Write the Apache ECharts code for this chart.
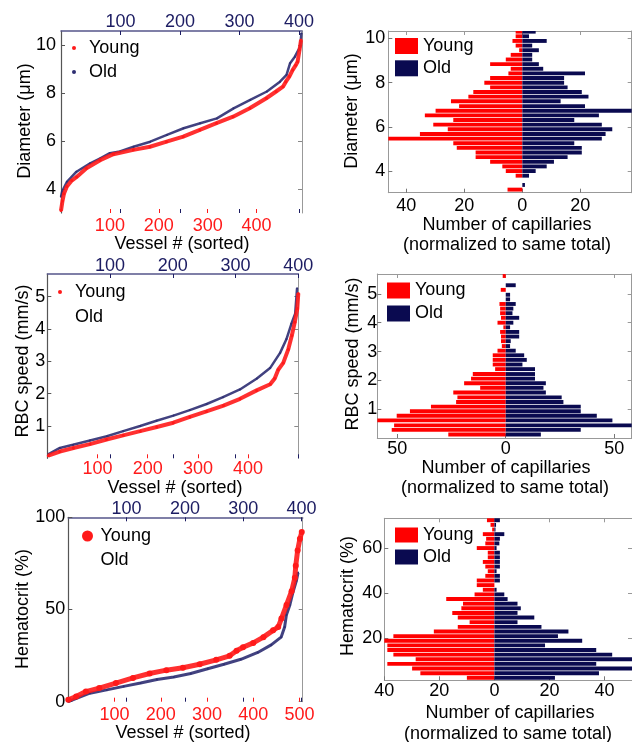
<!DOCTYPE html>
<html>
<head>
<meta charset="utf-8">
<script src="https://cdn.jsdelivr.net/npm/echarts@6.0.0/dist/echarts.min.js"></script>
<style>html,body{margin:0;padding:0;background:#fff;}#chart{width:632px;height:742px;}</style>
</head>
<body>
<div id="chart"></div>
<script>
// ---------- Sorted vessel data: [vessel # (sorted), value] ----------
const diamYoungSorted = [[0,3.1],[3,3.5],[6,3.8],[12,4.1],[22,4.35],[32,4.5],[52,4.86],[80,5.2],[107,5.45],[148,5.63],[182,5.76],[216,5.97],[250,6.18],[284,6.46],[318,6.74],[352,7.01],[386,7.36],[420,7.78],[440,8.06],[454,8.26],[460,8.47],[467,8.68],[474,8.96],[480,9.15],[484,9.3],[488,9.8],[491,10.2]];
const diamOldSorted = [[0,3.68],[2,3.9],[10,4.3],[26,4.72],[49,5.07],[66,5.28],[82,5.49],[99,5.56],[122,5.76],[150,5.97],[178,6.25],[206,6.53],[234,6.74],[262,6.94],[290,7.36],[318,7.71],[346,8.06],[368,8.47],[379,8.75],[385,9.24],[393,9.51],[402,9.93],[404,10.49]];
const rbcYoungSorted = [[2,0.08],[25,0.21],[52,0.32],[85,0.44],[118,0.58],[151,0.71],[185,0.84],[218,0.97],[251,1.1],[284,1.28],[317,1.45],[351,1.63],[384,1.84],[417,2.1],[444,2.29],[453,2.47],[460,2.74],[470,2.95],[480,3.37],[487,3.79],[493,4.21],[498,4.63],[500,5.1]];
const rbcOldSorted = [[2,0.13],[20,0.32],[41,0.42],[68,0.55],[95,0.68],[121,0.84],[148,1.0],[174,1.16],[201,1.32],[227,1.49],[254,1.68],[280,1.89],[307,2.13],[334,2.47],[355,2.79],[371,3.26],[381,3.68],[389,4.16],[395,4.47],[398,5.26]];
const hctYoungSorted = [[0,1],[17,2.8],[38,5.5],[67,7.4],[103,10.1],[140,12.9],[176,15.3],[212,17.1],[248,18.4],[284,20.3],[320,22.7],[349,24.9],[364,27.6],[378,29.5],[400,31.9],[422,35],[443,38.7],[454,40.5],[461,45.1],[472,52.5],[483,59.9],[490,67.2],[492,73.7],[496,82],[501,88.4],[505,92]];
const hctOldSorted = [[0,0],[14,1.8],[37,4.6],[66,6.4],[95,8.3],[124,10.1],[152,12],[181,13.4],[210,15.3],[239,17.9],[267,20.3],[296,23],[325,26.7],[348,30.8],[365,35],[371,40.5],[374,47],[380,52.5],[385,59],[391,65.4],[394,70]];

// ---------- Histograms (bin centres, counts normalized to same total) ----------
const diamBins = [3.16,3.37,3.58,3.79,4.00,4.21,4.42,4.63,4.84,5.05,5.26,5.47,5.68,5.89,6.10,6.31,6.52,6.73,6.94,7.16,7.37,7.58,7.79,8.00,8.21,8.42,8.63,8.84,9.05,9.26,9.47,9.68,9.89,10.10,10.31];
const diamYoungCounts = [5.1,0,0,2.3,5.7,6.9,11.1,16.1,16.1,22.6,23.8,47,35.3,25.7,30.7,23.8,33.6,29.9,21.8,24.6,18.6,16.9,11.1,13.1,11.1,4.8,4.0,11.1,5.7,4.0,1.1,2.3,3.4,2.3,2.3];
const diamOldCounts = [0,0.9,0,2.3,4.6,8.4,10.9,15.6,20.5,20.5,17.9,27.4,28.7,31.0,27.4,17.9,26.4,39,21.6,13.2,22.8,20.5,15.6,14.4,14.4,21.6,7.2,5.7,3.4,3.4,5.7,3.4,8.4,2.3,4.6];

const rbcBins = [0.12,0.28,0.44,0.61,0.77,0.93,1.09,1.25,1.41,1.58,1.74,1.90,2.06,2.22,2.39,2.55,2.71,2.87,3.03,3.19,3.36,3.52,3.68,3.84,4.00,4.17,4.33,4.49,4.65,4.81,4.97,5.14,5.30,5.46,5.62];
const rbcYoungCounts = [26.5,52.6,51.5,59.5,50.3,44.2,34.5,22.9,22.3,24.2,11.8,19.2,16,15.2,4.9,6,6,6,3.8,1.8,2.2,2.2,2.6,1.1,3.8,2.2,2.6,2.6,2.9,0,0,2.3,0,0,1.4];
const rbcOldCounts = [16.2,34.6,59,49.2,42,34.6,34.6,26.6,25.8,18.5,17.4,18.5,13.5,13.5,13.5,7.7,9.7,8.5,4.6,2,2.3,6.2,6.2,2,3.5,6.2,3.1,3.5,4.6,2,2,0,4.6,0,0];

const hctBins = [2.4,4.46,6.52,8.58,10.64,12.7,14.76,16.82,18.88,20.94,23.0,25.06,27.12,29.18,31.24,33.3,35.36,37.42,39.48,41.54,43.6,45.66,47.72,49.78,51.84,53.9,55.96,58.02,60.08,62.14,64.2,66.26,68.32,70.38,72.44];
const hctYoungCounts = [10,26.9,29.9,38.9,28.6,36.7,38.9,38.9,40.5,36.7,22,13.3,9,13.3,15.3,12,11.4,17.5,7.2,4.2,6.4,6.4,3.3,2.4,3.3,4.2,2.4,2.4,6.4,3.3,3.0,4.2,0.8,1.4,2.7];
const hctOldCounts = [22,38,52,37,51,42.8,37,18.4,31.9,23.1,26.9,17.1,8.4,14.5,8.4,9.6,8.4,4.8,3.6,0.8,0,2.0,2.0,0.8,2.0,2.0,2.0,2.0,0.8,1.8,2.0,3.6,0.4,0.6,2.0];

// ---------- Tick labels ----------
const vesselTicksYoung = [[100,200,300,400],[100,200,300,400],[100,200,300,400,500]];
const vesselTicksOld = [100,200,300,400];
const diamTicks = [4,6,8,10];
const rbcTicks = [1,2,3,4,5];
const hctTicksSorted = [0,50,100];
const hctTicksHist = [20,40,60];
const countTicks = [[-40,-20,0,20],[-50,0,50],[-40,-20,0,20,40]];

// ---------- Styling ----------
const RED = '#ff1a1a', NAVY = '#1c1c62', OLDLINE = '#2e2e72', BARNAVY = '#0a0a50';
const FONT = "'Liberation Sans', Arial, Helvetica, sans-serif";
const chart = echarts.init(document.getElementById('chart'), null, {renderer: 'canvas'});

const sortedGrids = [
  {left: 61, top: 31, width: 241, height: 182},
  {left: 47.3, top: 274, width: 251, height: 184.3},
  {left: 68.3, top: 517.3, width: 234.4, height: 184.4}
];
const histGrids = [
  {left: 388.3, top: 31, width: 243.4, height: 161.7},
  {left: 377.3, top: 274, width: 254.4, height: 164},
  {left: 384.3, top: 518.3, width: 249, height: 162}
];
const sortedCfg = [
  {young: diamYoungSorted, old: diamOldSorted, yMin: 3, yMax: 10.58, yTicks: diamTicks, redMax: 493, blueMax: 405,
   redM: 4, blueM: 0, yM: 5, yLw: 4, oLw: 2.5, ySym: 3, oSym: 2},
  {young: rbcYoungSorted, old: rbcOldSorted, yMin: 0, yMax: 5.7, yTicks: rbcTicks, redMax: 500, blueMax: 400,
   redM: 2, blueM: -1, yM: 2, yLw: 4, oLw: 2.5, ySym: 3, oSym: 2},
  {young: hctYoungSorted, old: hctOldSorted, yMin: 0, yMax: 100, yTicks: hctTicksSorted, redMax: 507, blueMax: 402,
   redM: 4, blueM: -1, yM: 3, yLw: 5, oLw: 3, ySym: 6, oSym: 2}
];
const histCfg = [
  {bins: diamBins, young: diamYoungCounts, old: diamOldCounts, xMin: -46.2, xMax: 37.7, yMin: 3.02, yMax: 10.34, yTicks: diamTicks, xM: 4.5, yM: 3},
  {bins: rbcBins, young: rbcYoungCounts, old: rbcOldCounts, xMin: -59.25, xMax: 58.1, yMin: 0, yMax: 5.69, yTicks: rbcTicks, xM: 2.5, yM: 0},
  {bins: hctBins, young: hctYoungCounts, old: hctOldCounts, xMin: -40, xMax: 50, yMin: 1.3, yMax: 73.3, yTicks: hctTicksHist, xM: 1.7, yM: 2}
];

function lbl(color, margin, custom, fmt) {
  const o = {show: true, color, fontFamily: FONT, fontSize: 18, margin, customValues: custom, hideOverlap: false};
  if (fmt) o.formatter = fmt;
  return o;
}
const noSplit = {show: false};

const grid = [], xAxis = [], yAxis = [], series = [], legend = [];

sortedCfg.forEach((c, i) => {
  grid.push(sortedGrids[i]);
  // bottom (young) axis
  xAxis.push({gridIndex: i, type: 'value', position: 'bottom', min: 0, max: c.redMax,
    axisLine: {show: false, onZero: false},
    axisTick: {show: true, inside: true, length: 4, customValues: vesselTicksYoung[i], lineStyle: {color: RED}},
    axisLabel: lbl(RED, c.redM, vesselTicksYoung[i]), splitLine: noSplit});
  // top (old) axis
  xAxis.push({gridIndex: i, type: 'value', position: 'top', min: 0, max: c.blueMax,
    axisLine: {show: true, onZero: false, lineStyle: {color: '#56568a', width: 1.5}},
    axisTick: {show: true, inside: true, length: 4, customValues: vesselTicksOld, lineStyle: {color: NAVY}},
    axisLabel: lbl(NAVY, c.blueM, vesselTicksOld), splitLine: noSplit});
  // mirrored old ticks at bottom
  xAxis.push({gridIndex: i, type: 'value', position: 'bottom', min: 0, max: c.blueMax,
    axisLine: {show: false, onZero: false},
    axisTick: {show: true, inside: true, length: 4, customValues: vesselTicksOld, lineStyle: {color: NAVY}},
    axisLabel: {show: false}, splitLine: noSplit});
  yAxis.push({gridIndex: i, type: 'value', position: 'left', min: c.yMin, max: c.yMax,
    axisLine: {show: true, onZero: false, lineStyle: {color: '#555', width: 1.2}},
    axisTick: {show: true, inside: true, length: 4, customValues: c.yTicks, lineStyle: {color: '#555'}},
    axisLabel: lbl('#000', c.yM, c.yTicks), splitLine: noSplit});
  yAxis.push({gridIndex: i, type: 'value', position: 'right', min: c.yMin, max: c.yMax,
    axisLine: {show: true, onZero: false, lineStyle: {color: '#999'}},
    axisTick: {show: true, inside: true, length: 4, customValues: c.yTicks, lineStyle: {color: '#888'}},
    axisLabel: {show: false}, splitLine: noSplit});
  const n = i + 1;
  series.push({type: 'line', name: 'Old' + n, xAxisIndex: 3 * i + 1, yAxisIndex: 2 * i, data: c.old, z: 2,
    symbol: 'circle', symbolSize: c.oSym, showSymbol: true, itemStyle: {color: OLDLINE},
    lineStyle: {color: OLDLINE, width: c.oLw, opacity: 0.9}, silent: true});
  series.push({type: 'line', name: 'Young' + n, xAxisIndex: 3 * i, yAxisIndex: 2 * i, data: c.young, z: 3,
    symbol: 'circle', symbolSize: c.ySym, showSymbol: true, itemStyle: {color: RED},
    lineStyle: {color: RED, width: c.yLw, opacity: 0.9}, silent: true});
});

histCfg.forEach((c, j) => {
  const gi = 3 + j;
  grid.push(histGrids[j]);
  xAxis.push({gridIndex: gi, type: 'value', position: 'bottom', min: c.xMin, max: c.xMax,
    axisLine: {show: true, onZero: false, lineStyle: {color: '#999'}},
    axisTick: {show: true, inside: true, length: 4, customValues: countTicks[j], lineStyle: {color: '#777'}},
    axisLabel: lbl('#000', c.xM, countTicks[j], v => String(Math.abs(v))), splitLine: noSplit});
  xAxis.push({gridIndex: gi, type: 'value', position: 'top', min: c.xMin, max: c.xMax,
    axisLine: {show: true, onZero: false, lineStyle: {color: '#999'}},
    axisTick: {show: true, inside: true, length: 4, customValues: countTicks[j], lineStyle: {color: '#999'}},
    axisLabel: {show: false}, splitLine: noSplit});
  yAxis.push({gridIndex: gi, type: 'value', position: 'left', min: c.yMin, max: c.yMax,
    axisLine: {show: true, onZero: false, lineStyle: {color: '#999'}},
    axisTick: {show: true, inside: true, length: 4, customValues: c.yTicks, lineStyle: {color: '#777'}},
    axisLabel: lbl('#000', c.yM, c.yTicks), splitLine: noSplit});
  yAxis.push({gridIndex: gi, type: 'value', position: 'right', min: c.yMin, max: c.yMax,
    axisLine: {show: true, onZero: false, lineStyle: {color: '#999'}},
    axisTick: {show: true, inside: true, length: 4, customValues: c.yTicks, lineStyle: {color: '#999'}},
    axisLabel: {show: false}, splitLine: noSplit});
  const binW = c.bins[1] - c.bins[0];
  const mk = (name, counts, sign, color) => ({
    type: 'custom', name, xAxisIndex: 9 + 2 * j, yAxisIndex: 6 + 2 * j, silent: true,
    itemStyle: {color},
    encode: {x: 0, y: 1},
    data: c.bins.map((b, k) => [sign * counts[k], b]),
    renderItem(params, api) {
      const v = api.value(0), ctr = api.value(1);
      if (!v) return null;
      const a = api.coord([0, ctr + binW * 0.42]);
      const b = api.coord([v, ctr - binW * 0.42]);
      const shape = echarts.graphic.clipRectByRect({
        x: Math.min(a[0], b[0]), y: a[1], width: Math.abs(b[0] - a[0]), height: b[1] - a[1]
      }, params.coordSys);
      return shape ? {type: 'rect', shape, style: {fill: color}} : null;
    }
  });
  const n = 4 + j;
  series.push(mk('Young' + n, c.young, -1, '#ff0000'));
  series.push(mk('Old' + n, c.old, 1, BARNAVY));
});

const strip = name => name.replace(/\d/g, '');
const legText = {fontSize: 18, fontFamily: FONT, color: '#000'};
const legBase = {orient: 'vertical', padding: 0, selectedMode: false, formatter: strip, textStyle: legText};
legend.push(Object.assign({}, legBase, {left: 72, top: 39, itemWidth: 20, itemHeight: 4, itemGap: 6,
  data: [{name: 'Young1', icon: 'circle'}, {name: 'Old1', icon: 'circle'}]}));
legend.push(Object.assign({}, legBase, {left: 58, top: 283, itemWidth: 20, itemHeight: 4, itemGap: 7,
  data: [{name: 'Young2', icon: 'circle'}, {name: 'Old2', icon: 'circle', itemStyle: {opacity: 0}}]}));
legend.push(Object.assign({}, legBase, {left: 82, top: 527, itemWidth: 16, itemHeight: 11, itemGap: 6,
  data: [{name: 'Young3', icon: 'circle'}, {name: 'Old3', icon: 'circle', itemStyle: {opacity: 0}}]}));
legend.push(Object.assign({}, legBase, {left: 395, top: 37, itemWidth: 23, itemHeight: 16, itemGap: 4.3,
  data: [{name: 'Young4', icon: 'rect'}, {name: 'Old4', icon: 'rect'}]}));
legend.push(Object.assign({}, legBase, {left: 387, top: 281.5, itemWidth: 23, itemHeight: 16, itemGap: 5,
  data: [{name: 'Young5', icon: 'rect'}, {name: 'Old5', icon: 'rect'}]}));
legend.push(Object.assign({}, legBase, {left: 395, top: 526, itemWidth: 23, itemHeight: 15, itemGap: 4,
  data: [{name: 'Young6', icon: 'rect'}, {name: 'Old6', icon: 'rect'}]}));

function txt(text, x, y, rot) {
  return {type: 'text', x, y, rotation: rot ? Math.PI / 2 : 0, silent: true,
    style: {text, fill: '#000', font: '18px ' + FONT, align: 'center', verticalAlign: 'middle'}};
}
const graphic = [
  txt('Diameter (\u03bcm)', 25, 121, true),
  txt('Vessel # (sorted)', 182, 244),
  txt('RBC speed (mm/s)', 23, 361, true),
  txt('Vessel # (sorted)', 175, 488),
  txt('Hematocrit (%)', 23, 609, true),
  txt('Vessel # (sorted)', 183, 733),
  txt('Diameter (\u03bcm)', 352, 111, true),
  txt('Number of capillaries', 507, 225),
  txt('(normalized to same total)', 507, 245),
  txt('RBC speed (mm/s)', 353, 354, true),
  txt('Number of capillaries', 506, 468),
  txt('(normalized to same total)', 505, 488),
  txt('Hematocrit (%)', 348, 596, true),
  txt('Number of capillaries', 510, 713),
  txt('(normalized to same total)', 508, 734)
];

chart.setOption({animation: false, backgroundColor: '#fff', grid, xAxis, yAxis, series, legend, graphic});
</script>
</body>
</html>
